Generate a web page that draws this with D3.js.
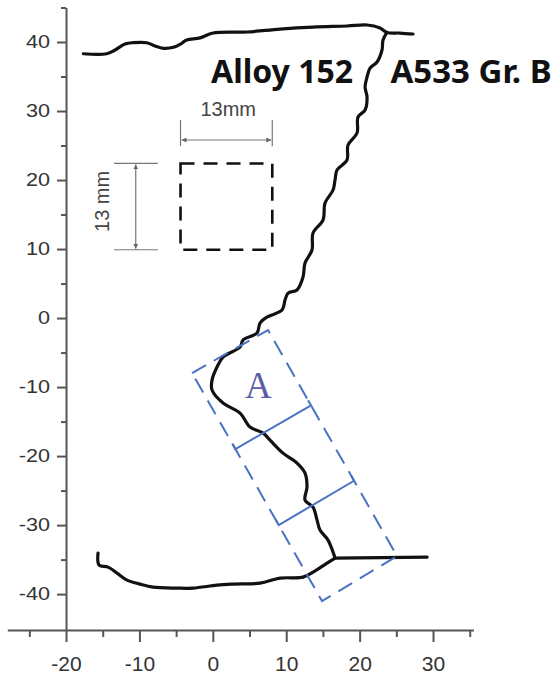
<!DOCTYPE html>
<html>
<head>
<meta charset="utf-8">
<script src="https://cdn.jsdelivr.net/npm/d3@7"></script>
<style>
  body { margin: 0; background: #fff; }
</style>
</head>
<body>
<div class="chart"></div>
<script>
const width = 558
const height = 675

// axis ticks
const xTicks = [-20, -10, 0, 10, 20, 30]
const xMinor = [-25, -15, -5, 5, 15, 25, 35]
const yTicks = [-40, -30, -20, -10, 0, 10, 20, 30, 40]
const yMinor = [-35, -25, -15, -5, 5, 15, 25, 35, 45]

// upper fusion line
const topLine = [
  [-17.64, 38.3], [-14.46, 38.3], [-13.32, 38.84], [-11.96, 39.71], [-10.87, 39.9],
  [-9.0, 39.9], [-7.87, 39.42], [-6.74, 39.09], [-5.38, 39.23], [-4.24, 39.81],
  [-3.56, 40.29], [-1.74, 40.6], [0.03, 41.3], [4.66, 41.45], [9.16, 41.88],
  [13.65, 42.17], [18.28, 42.32], [21.0, 42.46], [22.78, 42.03], [23.73, 41.38],
  [25.5, 41.3], [27.27, 41.16]
]

// interface / crack path
const crackLine = [
  [23.73, 41.38], [23.19, 40.29], [23.05, 38.84], [22.37, 37.1], [21.42, 36.23],
  [21.01, 34.93], [20.74, 33.48], [21.01, 32.03], [20.74, 30.14], [19.78, 29.13],
  [19.65, 26.81], [18.42, 25.07], [18.28, 22.9], [16.92, 21.45], [16.65, 20.0],
  [16.38, 18.55], [15.29, 16.67], [15.01, 14.2], [13.65, 12.32], [13.51, 9.86],
  [12.56, 7.97], [12.29, 5.94], [11.47, 4.06], [10.25, 3.62], [9.84, 2.61],
  [9.43, 1.16], [7.38, 0.14], [6.43, -0.72], [6.02, -2.17], [4.11, -3.19],
  [3.71, -4.2], [1.39, -5.65], [0.57, -7.1], [-0.11, -8.99], [-0.11, -10.43],
  [1.39, -12.32], [3.71, -13.77], [5.07, -15.8], [6.84, -16.67], [7.79, -17.68],
  [9.56, -19.57], [11.47, -21.01], [12.56, -22.46], [12.83, -24.49], [12.56, -26.38],
  [13.65, -27.39], [14.2, -29.28], [14.6, -30.72], [15.69, -32.17], [16.38, -33.91],
  [16.65, -34.78]
]

// lower fusion line
const bottomLine = [
  [-15.64, -34.06], [-15.5, -35.8], [-14.28, -36.09], [-13.05, -36.96], [-11.69, -37.97],
  [-9.92, -38.55], [-8.15, -38.99], [-4.88, -39.13], [-2.7, -39.13], [0.57, -38.7],
  [2.75, -38.55], [6.43, -38.41], [9.16, -37.68], [12.29, -37.54], [13.65, -36.81],
  [15.56, -35.51], [16.65, -34.78]
]
const rightStub = [[16.65, -34.78], [29.2, -34.64]]

// region A (rotated box: left, top, right, bottom corners)
const boxA = [[-2.83, -7.97], [7.52, -1.74], [25.1, -34.49], [14.88, -41.01]]
const boxSplits = [1 / 3, 2 / 3]

// 13 mm reference square
const squareX = [-4.4, 8.1]
const squareY = [9.9, 22.4]

const svg = d3.select('.chart')
  .append('svg')
  .attr('width', width)
  .attr('height', height)

const x = d3.scaleLinear().domain([-28, 35.5]).range([7.3, 473.4])
const y = d3.scaleLinear().domain([-45.2, 45]).range([630, 7.5])

const defs = svg.append('defs')
defs.append('marker')
  .attr('id', 'arr')
  .attr('viewBox', '0 0 10 10')
  .attr('refX', 10).attr('refY', 5)
  .attr('markerWidth', 5).attr('markerHeight', 5)
  .attr('markerUnits', 'userSpaceOnUse')
  .attr('orient', 'auto-start-reverse')
  .append('path')
  .attr('d', 'M0,0L10,5L0,10z')
  .attr('fill', '#666')

// ---- axes
const axisColor = '#555'
const font = "'Liberation Sans', Arial, sans-serif"
const fmt = d => String(d)  // plain hyphen minus like the original

const yAxis = svg.append('g')
  .attr('transform', `translate(${x(-20)},0)`)
  .call(d3.axisLeft(y).tickValues(yTicks).tickSize(9).tickSizeOuter(0).tickFormat(fmt))
yAxis.append('g')
  .call(d3.axisLeft(y).tickValues(yMinor).tickSize(5).tickSizeOuter(0).tickFormat(''))
  .select('.domain').remove()

const xAxis = svg.append('g')
  .attr('transform', `translate(0,${y(-45.2)})`)
  .call(d3.axisBottom(x).tickValues(xTicks).tickSize(12).tickSizeOuter(0).tickFormat(fmt))
xAxis.append('g')
  .call(d3.axisBottom(x).tickValues(xMinor).tickSize(7).tickSizeOuter(0).tickFormat(''))
  .select('.domain').remove()

svg.selectAll('.domain').attr('stroke', axisColor).attr('stroke-width', 2)
svg.selectAll('.tick line').attr('stroke', axisColor).attr('stroke-width', 2)

yAxis.selectAll('.tick text')
  .attr('font-family', font)
  .attr('font-size', 18)
  .attr('fill', '#333')
  .attr('x', -16 / 1.2)
  .attr('transform', 'scale(1.2,1)')

xAxis.selectAll('.tick text')
  .attr('font-family', font)
  .attr('font-size', 21)
  .attr('fill', '#333')
  .attr('y', 26)

// ---- fusion lines and crack
const line = d3.line()
  .x(d => x(d[0]))
  .y(d => y(d[1]))
  .curve(d3.curveCatmullRom.alpha(0.5))

const curves = svg.append('g')
  .attr('fill', 'none')
  .attr('stroke', '#111')
  .attr('stroke-width', 3.2)
  .attr('stroke-linejoin', 'round')
  .attr('stroke-linecap', 'round')

;[topLine, crackLine, bottomLine, rightStub].forEach(d => {
  curves.append('path').attr('d', line(d))
})

// ---- 13 mm square with dimension lines
const sq = svg.append('g')
sq.append('path')
  .attr('d', `M${x(squareX[0])},${y(squareY[1])}H${x(squareX[1])}V${y(squareY[0])}H${x(squareX[0])}Z`)
  .attr('fill', 'none')
  .attr('stroke', '#111')
  .attr('stroke-width', 2.6)
  .attr('stroke-dasharray', '14,9')

const dimColor = '#777'
// horizontal dimension
const hy = y(25.8)
sq.append('line')
  .attr('x1', x(squareX[0]) + 1).attr('x2', x(squareX[1]) - 1)
  .attr('y1', hy).attr('y2', hy)
  .attr('stroke', dimColor).attr('stroke-width', 1.2)
  .attr('marker-start', 'url(#arr)').attr('marker-end', 'url(#arr)')
squareX.forEach(v => {
  sq.append('line')
    .attr('x1', x(v)).attr('x2', x(v))
    .attr('y1', y(28.7)).attr('y2', y(24.9))
    .attr('stroke', dimColor).attr('stroke-width', 1.2)
})
sq.append('text')
  .attr('x', x(2.1)).attr('y', y(29.3))
  .attr('text-anchor', 'middle')
  .attr('font-family', font).attr('font-size', 20).attr('fill', '#444')
  .text('13mm')

// vertical dimension
const vx = x(-10.5)
sq.append('line')
  .attr('x1', vx).attr('x2', vx)
  .attr('y1', y(squareY[1]) + 1).attr('y2', y(squareY[0]) - 1)
  .attr('stroke', dimColor).attr('stroke-width', 1.2)
  .attr('marker-start', 'url(#arr)').attr('marker-end', 'url(#arr)')
squareY.forEach(v => {
  sq.append('line')
    .attr('x1', x(-13.46)).attr('x2', x(-7.5))
    .attr('y1', y(v)).attr('y2', y(v))
    .attr('stroke', dimColor).attr('stroke-width', 1.2)
})
sq.append('text')
  .attr('transform', `translate(${x(-14.1)},${y(16.9)}) rotate(-90)`)
  .attr('text-anchor', 'middle')
  .attr('font-family', font).attr('font-size', 20).attr('fill', '#444')
  .text('13 mm')

// ---- region A box
const blue = '#4a72c4'
const pts = boxA.map(d => [x(d[0]), y(d[1])])
const boxG = svg.append('g')
  .attr('fill', 'none')
  .attr('stroke', blue)
  .attr('stroke-width', 2)

boxG.append('path')
  .attr('d', 'M' + pts.map(p => p.join(',')).join('L') + 'Z')
  .attr('stroke-dasharray', '16,9')

const lerp = (a, b, t) => [a[0] + (b[0] - a[0]) * t, a[1] + (b[1] - a[1]) * t]
const [pA, pB, pC, pD] = pts
const len = Math.hypot(pA[0] - pD[0], pA[1] - pD[1])
const hook = [(pA[0] - pD[0]) / len * 6, (pA[1] - pD[1]) / len * 6]
boxSplits.forEach(t => {
  const p = lerp(pA, pD, t)
  const q = lerp(pB, pC, t)
  boxG.append('path')
    .attr('d', `M${p[0] + hook[0]},${p[1] + hook[1]}L${p[0]},${p[1]}L${q[0]},${q[1]}L${q[0] + hook[0]},${q[1] + hook[1]}`)
})

svg.append('text')
  .attr('x', x(6.2)).attr('y', y(-11.6))
  .attr('text-anchor', 'middle')
  .attr('font-family', "'Liberation Serif', 'Times New Roman', serif")
  .attr('font-size', 37)
  .attr('fill', '#5a5ca8')
  .text('A')

// ---- material labels
const titles = svg.append('g')
  .attr('font-family', "'Noto Sans', 'DejaVu Sans', sans-serif")
  .attr('font-weight', 'bold')
  .attr('font-size', 32)
  .attr('fill', '#111')
titles.append('text').attr('x', x(-0.25)).attr('y', y(34.1)).text('Alloy 152')
titles.append('text').attr('x', x(24.2)).attr('y', y(34.1)).attr('font-size', 33).text('A533 Gr. B')
</script>
</body>
</html>
